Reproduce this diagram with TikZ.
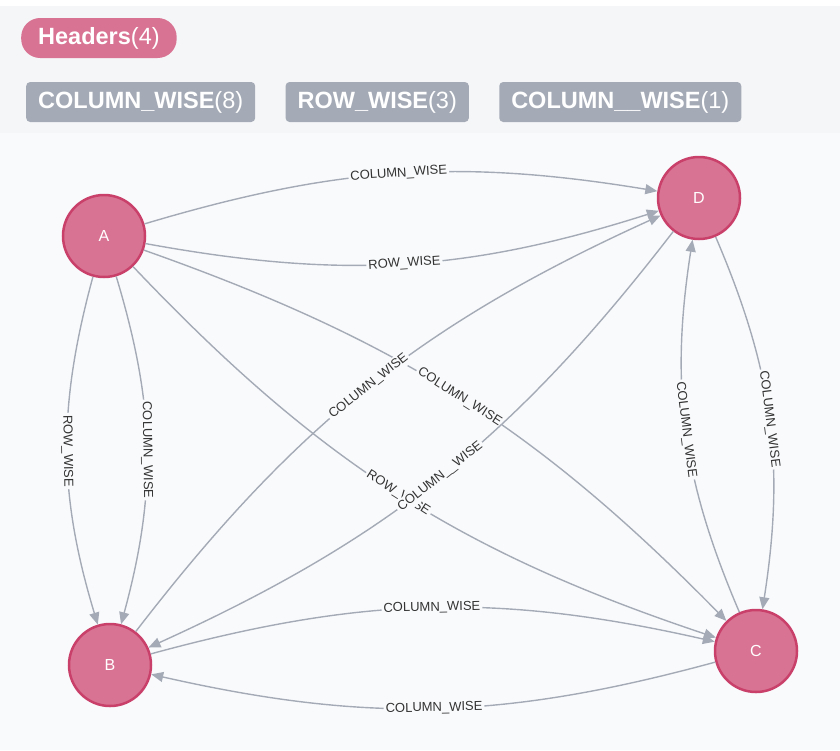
\documentclass[tikz,border=0pt]{standalone}
\usepackage{fontspec}
\setmainfont{Liberation Sans}
\usetikzlibrary{arrows.meta,positioning}
\definecolor{nodepink}{HTML}{D97393}
\definecolor{nodeedge}{HTML}{C9406B}
\definecolor{relgray}{HTML}{A5ABB6}
\definecolor{panelbg}{HTML}{F5F6F8}
\definecolor{canvasbg}{HTML}{F9FAFC}
\definecolor{labelink}{HTML}{333333}

\begin{document}
\begin{tikzpicture}[x=1pt,y=-1pt,
  entity/.style={circle,fill=nodepink,draw=nodeedge,line width=2.5pt,minimum size=82pt,inner sep=0pt,text=white,font=\fontsize{16}{16}\selectfont},
  rel/.style={draw=relgray,line width=1.4pt,-{Triangle[length=12pt,width=10pt]}},
  rellabel/.style={fill=canvasbg,inner sep=2pt,text=labelink,font=\fontsize{13}{13}\selectfont,sloped},
  tagpill/.style={fill=nodepink,rounded corners=19pt,minimum height=40pt,inner xsep=17pt,text=white,font=\fontsize{23.5}{24}\selectfont},
  tagbox/.style={fill=relgray,rounded corners=4pt,minimum height=40pt,inner xsep=12pt,text=white,font=\fontsize{23.5}{24}\selectfont}]
  \useasboundingbox (0,0) rectangle (840,750);
  % backgrounds
  \fill[white] (0,0) rectangle (840,750);
  \fill[panelbg] (0,6) rectangle (840,133);
  \fill[canvasbg] (0,133) rectangle (840,750);
  % legend
  \node[tagpill, anchor=west] (hdr) at (21,38) {\textbf{Headers}(4)};
  \node[tagbox, anchor=west] (colwise) at (26,102) {\textbf{COLUMN\_WISE}(8)};
  \node[tagbox, right=30pt of colwise] (rowwise) {\textbf{ROW\_WISE}(3)};
  \node[tagbox, right=30pt of rowwise] (colwisetwo) {\textbf{COLUMN\_\_WISE}(1)};
  % entities
  \node[entity] (A) at (104,236) {A};
  \node[entity] (D) at (699,198) {D};
  \node[entity] (B) at (110,665) {B};
  \node[entity] (C) at (756,651) {C};
  % relationships
  \draw[rel] (A) to[bend left=13] node[rellabel]{COLUMN\_WISE} (D);
  \draw[rel] (A) to[bend right=14] node[rellabel]{ROW\_WISE} (D);
  \draw[rel] (A) to[bend right=16] node[rellabel]{ROW\_WISE} (B);
  \draw[rel] (A) to[bend left=16] node[rellabel]{COLUMN\_WISE} (B);
  \draw[rel] (A) to[bend left=13] node[rellabel]{COLUMN\_WISE} (C);
  \draw[rel] (A) to[bend right=14] node[rellabel]{ROW\_WISE} (C);
  \draw[rel] (B) to[bend left=14] node[rellabel]{COLUMN\_WISE} (D);
  \draw[rel] (D) to[bend left=14] node[rellabel]{COLUMN\_\_WISE} (B);
  \draw[rel] (C) to[bend left=16] node[rellabel]{COLUMN\_WISE} (D);
  \draw[rel] (D) to[bend left=16] node[rellabel]{COLUMN\_WISE} (C);
  \draw[rel] (B) to[bend left=14] node[rellabel]{COLUMN\_WISE} (C);
  \draw[rel] (C) to[bend left=14] node[rellabel]{COLUMN\_WISE} (B);
\end{tikzpicture}
\end{document}
